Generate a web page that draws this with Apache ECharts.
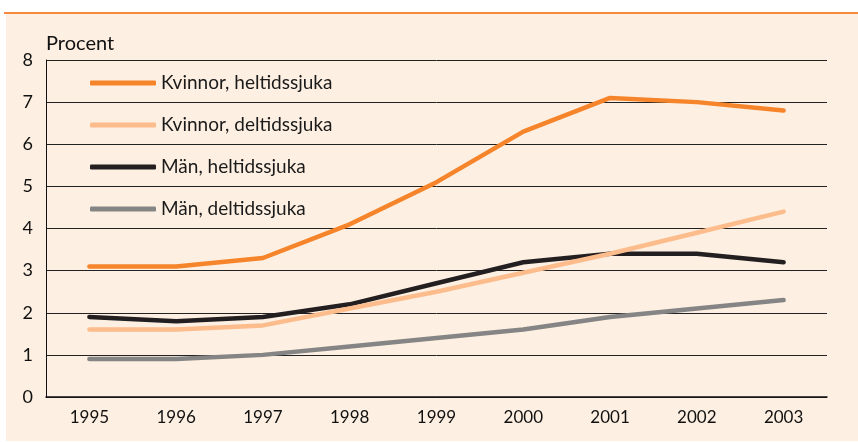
<!DOCTYPE html>
<html>
<head>
<meta charset="utf-8">
<script src="https://cdn.jsdelivr.net/npm/echarts@6/dist/echarts.min.js"></script>
<style>
  html, body { margin: 0; padding: 0; background: #ffffff; }
  #wrap { position: relative; width: 858px; height: 442px; overflow: hidden; }
  #topline { position: absolute; left: 4px; top: 12px; width: 854px; height: 2px; background: #F58A3A; }
  #panel { position: absolute; left: 6px; top: 14px; width: 852px; height: 427px; background: #FDEFE1; }
  #chart { position: absolute; left: 0; top: 0; width: 858px; height: 442px; }
</style>
</head>
<body>
<div id="wrap">
  <div id="topline"></div>
  <div id="panel"></div>
  <div id="chart"></div>
</div>
<script>
const years = ['1995','1996','1997','1998','1999','2000','2001','2002','2003'];
const kvinnorHeltid = [3.1, 3.1, 3.3, 4.1, 5.1, 6.3, 7.1, 7.0, 6.8];
const kvinnorDeltid = [1.6, 1.6, 1.7, 2.1, 2.5, 2.95, 3.4, 3.9, 4.4];
const manHeltid     = [1.9, 1.8, 1.9, 2.2, 2.7, 3.2, 3.4, 3.4, 3.2];
const manDeltid     = [0.9, 0.9, 1.0, 1.2, 1.4, 1.6, 1.9, 2.1, 2.3];
const seriesNames = ['Kvinnor, heltidssjuka', 'Kvinnor, deltidssjuka', 'Män, heltidssjuka', 'Män, deltidssjuka'];
const yName = 'Procent';

const FONT = 'Lato, "Noto Sans", sans-serif';
const colors = {
  'Kvinnor, heltidssjuka': '#F5842A',
  'Kvinnor, deltidssjuka': '#FDBC8C',
  'Män, heltidssjuka': '#231F20',
  'Män, deltidssjuka': '#858585'
};
const dataMap = {
  'Kvinnor, heltidssjuka': kvinnorHeltid,
  'Kvinnor, deltidssjuka': kvinnorDeltid,
  'Män, heltidssjuka': manHeltid,
  'Män, deltidssjuka': manDeltid
};
const drawOrder = ['Män, deltidssjuka', 'Män, heltidssjuka', 'Kvinnor, deltidssjuka', 'Kvinnor, heltidssjuka'];

const chart = echarts.init(document.getElementById('chart'));
chart.setOption({
  backgroundColor: 'transparent',
  animation: false,
  textStyle: { fontFamily: FONT },
  grid: { left: 46, right: 31, top: 60, bottom: 45, containLabel: false },
  legend: {
    data: seriesNames,
    orient: 'vertical',
    left: 90,
    top: 72,
    padding: 0,
    itemWidth: 66,
    itemHeight: 5,
    itemGap: 20,
    itemTextGap: 14,
    icon: 'roundRect',
    textStyle: { fontFamily: FONT, fontSize: 19, color: '#1a1a1a', lineHeight: 22 }
  },
  xAxis: {
    type: 'category',
    data: years,
    boundaryGap: true,
    axisLine: { lineStyle: { color: '#111', width: 1.5 } },
    axisTick: { show: false },
    axisLabel: { fontFamily: FONT, fontSize: 17, color: '#111', margin: 12 }
  },
  yAxis: {
    type: 'value',
    min: 0,
    max: 8,
    interval: 1,
    name: yName,
    nameLocation: 'end',
    nameGap: 6,
    nameTextStyle: { fontFamily: FONT, fontSize: 20, color: '#111', align: 'left', verticalAlign: 'bottom' },
    axisLine: { show: true, lineStyle: { color: '#111', width: 1 } },
    axisTick: { show: false },
    axisLabel: { fontFamily: FONT, fontSize: 18, color: '#111', margin: 13 },
    splitLine: { show: true, lineStyle: { color: '#222', width: 1 } }
  },
  series: drawOrder.map(n => ({
    name: n,
    type: 'line',
    data: dataMap[n],
    symbol: 'none',
    color: colors[n],
    lineStyle: { width: 4.5, color: colors[n], cap: 'round', join: 'round' }
  }))
});
</script>
</body>
</html>
